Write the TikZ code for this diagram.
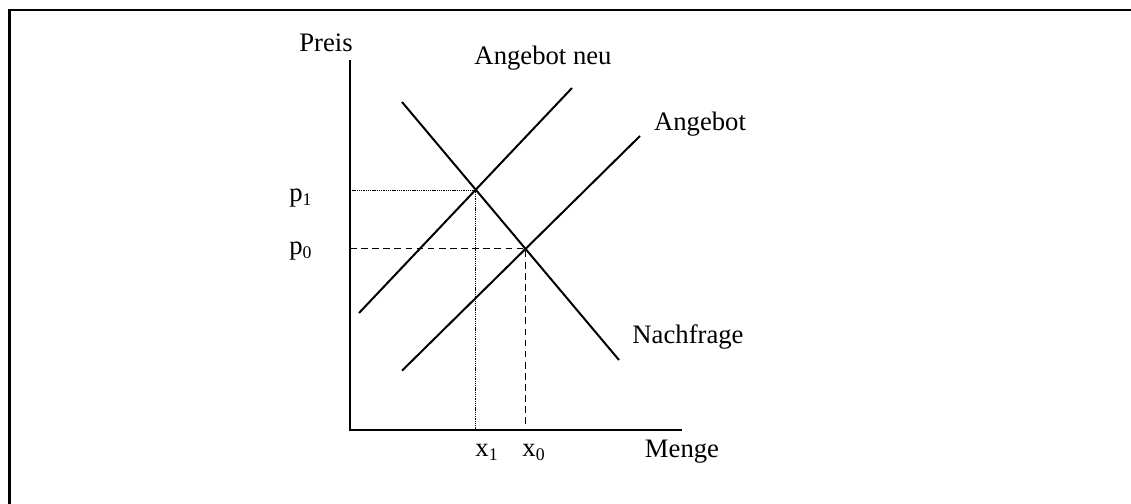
\documentclass[tikz,border=0pt]{standalone}
\usepackage{fontspec}
\setmainfont{Liberation Serif}
\begin{document}
\begin{tikzpicture}[x=0.45pt,y=-0.45pt,font=\fontsize{12}{14}\selectfont]
\tikzstyle{every node}+=[inner sep=0pt]
\tikzstyle{curve}=[black,line width=0.9pt]
\tikzstyle{helpline}=[black,line width=0.4pt]
\useasboundingbox (0,0) rectangle (1131,504);
\draw [black,line width=1.1pt] (9.5,504) -- (9.5,10) -- (1131,10);
\coordinate (origin) at (350,430);
\coordinate (ytop) at (350,60);
\coordinate (xend) at (682,430);
\coordinate (dtop) at (402,102);
\coordinate (dbot) at (619,360);
\coordinate (s0top) at (640,136);
\coordinate (s0bot) at (402,370.7);
\coordinate (s1top) at (572,88);
\coordinate (s1bot) at (359,313);
\coordinate (e1) at (475.7,190.7);
\coordinate (e0) at (525.3,248.3);
\coordinate (p1mark) at (350,190.7);
\coordinate (p0mark) at (350,248.3);
\coordinate (x1mark) at (475.7,430);
\coordinate (x0mark) at (525.3,430);
\draw [curve] (ytop) -- (origin) -- (xend);
\draw [curve] (dtop) -- (dbot);
\draw [curve] (s0bot) -- (s0top);
\draw [curve] (s1bot) -- (s1top);
\draw [helpline,dotted,dash pattern=on 0.6pt off 0.4pt] (p1mark) -- (e1) -- (x1mark);
\draw [helpline,dashed,dash pattern=on 3pt off 2pt] (p0mark) -- (e0) -- (x0mark);
\node [anchor=base] (preis) at (326,52) {Preis};
\node [anchor=base] (menge) at (682,458) {Menge};
\node [anchor=base] (angneu) at (543,65) {Angebot neu};
\node [anchor=base] (ang) at (700,131) {Angebot};
\node [anchor=base] (nachfr) at (688,344) {Nachfrage};
\node [anchor=base] (p1) at (301,202) {p\textsubscript{1}};
\node [anchor=base] (p0) at (301,255) {p\textsubscript{0}};
\node [anchor=base west] (x1) at (475,457) {x\textsubscript{1}};
\node [anchor=base west] (x0) at (522,457) {x\textsubscript{0}};
\end{tikzpicture}
\end{document}
